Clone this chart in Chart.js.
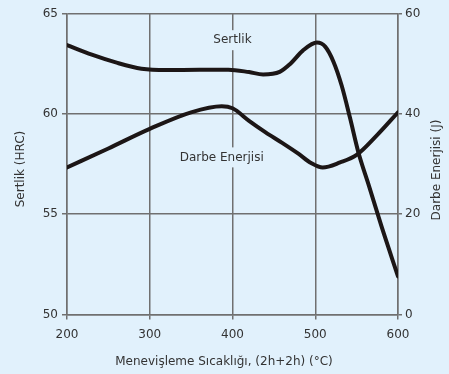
<!DOCTYPE html>
<html><head><meta charset="utf-8">
<script src="https://cdn.jsdelivr.net/npm/chart.js@4"></script>
<style>html,body{margin:0;padding:0;background:#e1f1fc;}</style>
</head><body>
<canvas id="c" width="449" height="374"></canvas>
<script>
// Data
const sertlikTemps = [200,230,260,290,320,360,395,420,437,457,470,485,502,512,522,532,542,552,565,580,600];
const sertlikHRC   = [63.43,62.95,62.55,62.25,62.18,62.2,62.2,62.08,61.96,62.09,62.5,63.15,63.55,63.35,62.6,61.4,59.8,58.1,56.4,54.4,51.9];
const darbeTemps   = [200,250,300,350,387,400,420,440,460,480,495,509,530,550,575,600];
const darbeJ       = [29.3,33.1,37.0,40.3,41.5,41.1,38.6,36.3,34.2,32.0,30.2,29.3,30.3,31.8,35.8,40.3];
const xTicks = [200,300,400,500,600];
const hrcTicks = [50,55,60,65];
const jTicks = [0,20,40,60];
const xTitle = 'Menevişleme Sıcaklığı, (2h+2h) (°C)';
const yTitle = 'Sertlik (HRC)';
const y1Title = 'Darbe Enerjisi (J)';
const seriesNames = ['Sertlik', 'Darbe Enerjisi'];
const labelAnchors = [[400, 63.67], [387, 57.83]];

const BG = '#e1f1fc', GRID = '#707070', TXT = '#333333', LINE = '#1c1616';
const FONT = 'DejaVu Sans';

const toPts = (xs, ys) => xs.map((x, i) => ({x, y: ys[i]}));

const textPlugin = {
  id: 'textPlugin',
  beforeDatasetsDraw(chart) {
    const ctx = chart.ctx, xs = chart.scales.x, ys = chart.scales.y;
    ctx.save();
    ctx.font = '12px "' + FONT + '"';
    ctx.textAlign = 'center'; ctx.textBaseline = 'middle';
    seriesNames.forEach((t, i) => {
      const px = xs.getPixelForValue(labelAnchors[i][0]);
      const py = ys.getPixelForValue(labelAnchors[i][1]);
      const w = ctx.measureText(t).width;
      ctx.fillStyle = BG;
      ctx.fillRect(px - w/2 - 4, py - 10, w + 8, 20);
      ctx.fillStyle = TXT;
      ctx.fillText(t, px, py);
    });
    ctx.restore();
  },
  afterDraw(chart) {
    const ctx = chart.ctx;
    ctx.save();
    ctx.font = '12px "' + FONT + '"';
    ctx.fillStyle = TXT;
    ctx.textAlign = 'center'; ctx.textBaseline = 'middle';
    ctx.fillText(xTitle, 224, 362);
    ctx.translate(21, 169); ctx.rotate(-Math.PI/2); ctx.fillText(yTitle, 0, 0);
    ctx.restore();
    ctx.save();
    ctx.font = '12px "' + FONT + '"';
    ctx.fillStyle = TXT;
    ctx.textAlign = 'center'; ctx.textBaseline = 'middle';
    ctx.translate(437, 170); ctx.rotate(-Math.PI/2); ctx.fillText(y1Title, 0, 0);
    ctx.restore();
  }
};

new Chart(document.getElementById('c'), {
  type: 'line',
  data: {
    datasets: [
      { label: seriesNames[0], data: toPts(sertlikTemps, sertlikHRC), yAxisID: 'y',
        borderColor: LINE, borderWidth: 4, pointRadius: 0, cubicInterpolationMode: 'monotone', borderCapStyle: 'round', fill: false },
      { label: seriesNames[1], data: toPts(darbeTemps, darbeJ), yAxisID: 'y1',
        borderColor: LINE, borderWidth: 4, pointRadius: 0, cubicInterpolationMode: 'monotone', borderCapStyle: 'round', fill: false }
    ]
  },
  options: {
    responsive: false, animation: false, devicePixelRatio: 1,
    layout: { padding: { top: 13.5, left: 0, right: 0, bottom: 0 } },
    plugins: { legend: { display: false }, tooltip: { enabled: false } },
    scales: {
      x: {
        type: 'linear', min: 200, max: 600,
        afterBuildTicks: s => { s.ticks = xTicks.map(v => ({value: v})); },
        afterFit: s => { s.height = 59.5; },
        grid: { color: GRID, lineWidth: 1.5, tickLength: 5 },
        border: { color: GRID, width: 1.5 },
        ticks: { color: TXT, font: { family: FONT, size: 12 }, padding: 8, maxRotation: 0 }
      },
      y: {
        type: 'linear', position: 'left', min: 50, max: 65,
        afterBuildTicks: s => { s.ticks = hrcTicks.map(v => ({value: v})); },
        afterFit: s => { s.width = 67; },
        grid: { color: GRID, lineWidth: 1.5, tickLength: 5 },
        border: { color: GRID, width: 1.5 },
        ticks: { color: TXT, font: { family: FONT, size: 12 }, padding: 4 }
      },
      y1: {
        type: 'linear', position: 'right', min: 0, max: 60,
        afterBuildTicks: s => { s.ticks = jTicks.map(v => ({value: v})); },
        afterFit: s => { s.width = 51; },
        grid: { color: GRID, lineWidth: 1.5, tickLength: 4, drawOnChartArea: false },
        border: { color: GRID, width: 1.5 },
        ticks: { color: TXT, font: { family: FONT, size: 12 }, padding: 3 }
      }
    }
  },
  plugins: [textPlugin]
});
</script>
</body></html>
